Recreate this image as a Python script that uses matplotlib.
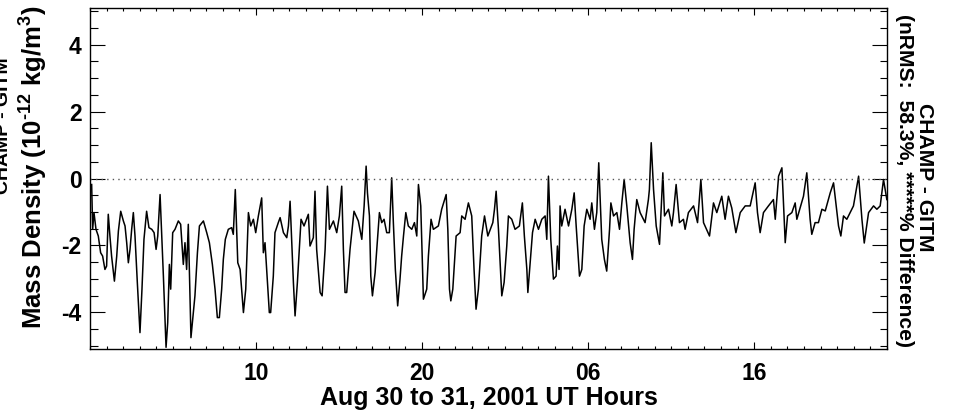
import numpy as np
import matplotlib
matplotlib.use("Agg")
import matplotlib.pyplot as plt
from matplotlib.ticker import MultipleLocator, FixedLocator

plt.rcParams['font.family'] = ['Liberation Sans', 'DejaVu Sans']
plt.rcParams['font.weight'] = 'bold'
plt.rcParams['axes.unicode_minus'] = False
plt.rcParams['mathtext.fontset'] = 'custom'
plt.rcParams['mathtext.rm'] = 'Liberation Sans:bold'
plt.rcParams['mathtext.bf'] = 'Liberation Sans:bold'

# hours since Aug 30 2001 00 UT, CHAMP - GITM mass density difference (1e-12 kg/m3)
hours = [0.10, 0.16, 0.24, 0.36, 0.50, 0.64, 0.76, 0.90, 1.00, 1.10, 1.20, 1.30, 1.47, 1.61,
         1.71, 1.85, 2.01, 2.11, 2.21, 2.31, 2.41, 2.51, 2.61, 2.71, 2.85, 3.01, 3.13, 3.25,
         3.41, 3.55, 3.72, 3.86, 3.98, 4.08, 4.22, 4.42, 4.58, 4.68, 4.78, 4.86, 4.98, 5.12,
         5.32, 5.46, 5.62, 5.72, 5.82, 5.92, 6.08, 6.22, 6.32, 6.47, 6.59, 6.83, 7.03, 7.19,
         7.37, 7.53, 7.67, 7.79, 7.93, 8.03, 8.15, 8.33, 8.53, 8.63, 8.75, 8.90, 9.04, 9.24,
         9.38, 9.54, 9.68, 9.84, 9.98, 10.14, 10.34, 10.44, 10.54, 10.80, 10.88, 11.04, 11.14,
         11.34, 11.45, 11.65, 11.85, 11.95, 12.05, 12.25, 12.35, 12.49, 12.71, 12.89, 13.15,
         13.25, 13.45, 13.55, 13.65, 13.86, 13.98, 14.16, 14.30, 14.42, 14.66, 14.86, 15.02,
         15.16, 15.26, 15.36, 15.46, 15.66, 15.90, 16.16, 16.37, 16.51, 16.63, 16.71, 16.83,
         16.91, 17.01, 17.17, 17.43, 17.57, 17.71, 17.87, 18.03, 18.17, 18.27, 18.39, 18.53,
         18.67, 18.77, 18.88, 19.02, 19.17, 19.38, 19.54, 19.68, 19.78, 19.92, 20.08, 20.28,
         20.38, 20.54, 20.68, 20.98, 21.18, 21.45, 21.55, 21.65, 21.73, 21.85, 22.05, 22.29,
         22.39, 22.59, 22.79, 22.99, 23.13, 23.25, 23.39, 23.59, 23.76, 23.96, 24.26, 24.36,
         24.46, 24.60, 24.80, 24.94, 25.10, 25.20, 25.40, 25.60, 25.86, 26.04, 26.16, 26.31,
         26.37, 26.51, 26.65, 26.81, 27.01, 27.21, 27.41, 27.51, 27.61, 27.75, 27.91, 28.07,
         28.15, 28.25, 28.31, 28.41, 28.61, 28.82, 29.02, 29.16, 29.28, 29.48, 29.62, 29.76,
         29.92, 30.12, 30.22, 30.38, 30.52, 30.64, 30.82, 30.98, 31.12, 31.29, 31.37, 31.53,
         31.73, 31.89, 32.03, 32.17, 32.33, 32.53, 32.67, 32.77, 32.93, 33.13, 33.43, 33.63,
         33.69, 33.80, 33.94, 34.10, 34.30, 34.50, 34.60, 34.84, 35.04, 35.14, 35.30, 35.50,
         35.74, 35.84, 36.04, 36.35, 36.59, 36.79, 36.95, 37.31, 37.55, 37.75, 38.05, 38.25,
         38.45, 38.65, 38.90, 39.16, 39.46, 39.76, 40.06, 40.20, 40.36, 40.56, 40.86, 41.16,
         41.27, 41.47, 41.67, 41.73, 41.87, 42.01, 42.27, 42.47, 42.57, 42.97, 43.17, 43.37,
         43.47, 43.67, 43.87, 44.08, 44.28, 44.58, 44.78, 45.08, 45.22, 45.38, 45.58, 45.78,
         45.98, 46.29, 46.49, 46.63, 46.89, 47.19, 47.39, 47.59, 47.79, 47.99]
diff = [-0.18, -1.52, -1.02, -1.52, -1.72, -2.22, -2.32, -2.72, -2.62, -1.07, -1.72, -2.32, -3.07, -2.32,
        -1.57, -0.98, -1.27, -1.42, -1.92, -2.52, -2.12, -1.52, -1.02, -1.72, -3.11, -4.61, -3.31, -1.82,
        -0.98, -1.47, -1.52, -1.62, -2.12, -1.72, -0.48, -2.92, -5.05, -4.31, -2.57, -3.31, -1.62, -1.52,
        -1.27, -1.37, -2.57, -1.92, -2.72, -1.37, -4.76, -4.01, -3.51, -2.22, -1.42, -1.27, -1.62, -1.92,
        -2.57, -3.31, -4.16, -4.16, -3.31, -2.42, -1.82, -1.52, -1.47, -1.67, -0.33, -2.52, -2.72, -4.01,
        -3.31, -1.02, -1.42, -1.22, -1.62, -1.12, -0.58, -2.22, -1.92, -4.01, -4.01, -2.92, -1.62,
        -1.32, -1.17, -1.62, -1.77, -1.42, -0.68, -3.11, -4.11, -3.11, -1.22, -1.42, -1.07,
        -2.02, -1.77, -0.38, -2.12, -3.41, -3.51, -2.12, -0.23, -1.52, -1.27, -1.62, -1.12,
        -0.23, -2.12, -3.41, -3.41, -2.12, -0.98, -1.27, -1.82, -0.82, 0.37, -0.43, -1.12,
        -2.92, -3.51, -2.82, -1.02, -1.32, -1.22, -1.62, -1.62, 0.02, -1.32, -2.72, -3.81,
        -3.01, -2.32, -1.72, -1.02, -1.42, -1.52, -1.32, -1.72, -0.18, -0.82, -3.61, -3.31,
        -2.32, -1.22, -1.52, -1.42, -0.92, -0.48, -1.52, -3.31, -3.66, -3.31, -1.72, -1.62,
        -1.12, -1.22, -0.73, -1.12, -2.72, -3.91, -3.31, -1.72, -1.12, -1.72, -1.32, -0.92,
        -0.38, -1.52, -3.51, -3.11, -2.02, -1.12, -1.22, -1.52, -1.42, -0.73, -1.72, -2.72,
        -3.41, -2.52, -1.62, -1.22, -1.52, -1.22, -1.12, -1.82, 0.07, -1.82, -3.01, -2.92,
        -2.02, -2.72, -0.82, -1.42, -0.92, -1.42, -0.92, -0.43, -1.42, -2.92, -2.72, -1.42,
        -0.92, -1.22, -0.73, -1.52, -1.02, 0.47, -1.82, -2.42, -2.77, -1.52, -0.73, -1.12,
        -1.02, -1.52, -0.73, -0.03, -0.82, -1.92, -2.42, -1.52, -0.63, -1.02, -1.32, -0.63,
        -0.33, 1.07, -0.33, -1.42, -1.97, 0.17, -1.12, -0.92, -1.42, -1.02, -0.18, -1.32,
        -1.22, -1.52, -1.02, -0.82, -1.32, -0.03, -1.32, -1.72, -0.73, -1.02, -0.53, -1.22,
        -0.53, -0.88, -1.62, -1.02, -0.82, -0.82, -0.13, -1.02, -1.62, -1.02, -0.82, -0.63,
        -1.22, 0.07, 0.32, -0.33, -1.92, -1.12, -1.02, -0.73, -1.22, -0.53, 0.17, -1.22,
        -1.67, -1.32, -1.32, -0.92, -0.97, -0.43, -0.13, -1.42, -1.72, -1.12, -1.22, -1.02,
        -0.82, 0.07, -1.22, -1.93, -1.02, -0.82, -0.92, -0.82, -0.03, -0.63]

xtick_pos = [10, 20, 30, 40]
xtick_lab = ['10', '20', '06', '16']

W, H = 954, 416
fig = plt.figure(figsize=(W / 100, H / 100), dpi=100)
ax = fig.add_axes([90 / W, 1 - 349 / H, (887 - 90) / W, (349 - 8) / H])

ax.plot(hours, diff, color='black', lw=1.1)
ax.axhline(0, color='#555555', lw=1.0, ls=(0, (1, 3)))

ax.set_xlim(0, 48)
ax.set_ylim(-5.1, 5.1)

ax.xaxis.set_major_locator(FixedLocator(xtick_pos))
ax.set_xticklabels(xtick_lab)
ax.xaxis.set_minor_locator(MultipleLocator(1))
ax.yaxis.set_major_locator(MultipleLocator(2))
ax.yaxis.set_minor_locator(MultipleLocator(0.5))

ax.tick_params(axis='x', which='major', direction='in', length=4.7, width=0.8,
               top=True, bottom=True, labelsize=16.5, pad=9)
ax.tick_params(axis='x', which='minor', direction='in', length=2.2, width=0.8,
               top=True, bottom=True)
ax.tick_params(axis='y', which='major', direction='in', length=10.8, width=0.8,
               left=True, right=True, labelsize=16.5, pad=6)
ax.tick_params(axis='y', which='minor', direction='in', length=5.4, width=0.8,
               left=True, right=True)
for s in ax.spines.values():
    s.set_linewidth(1.0)

fig.text(489 / W, 1 - 398 / H, 'Aug 30 to 31, 2001 UT Hours', ha='center', va='center',
         fontsize=18, fontweight='bold')
fig.text(33 / W, 1 - 167 / H, r'Mass Density (10$^{\text{-12}}$ kg/m$^{3}$)', ha='center', va='center',
         rotation=90, fontsize=18.5, fontweight='bold')
# title line that sits mostly off the left edge in the original
fig.text(4 / W, 1 - 126 / H, 'CHAMP - GITM', ha='center', va='center',
         rotation=90, fontsize=14, fontweight='bold')
fig.text(925 / W, 1 - 177 / H, 'CHAMP - GITM', ha='center', va='center',
         rotation=270, fontsize=15.2, fontweight='bold')
fig.text(905 / W, 1 - 180 / H, '(nRMS:  58.3%, *****% Difference)', ha='center', va='center',
         rotation=270, fontsize=15.2, fontweight='bold')

fig.savefig('out.png', dpi=100)
